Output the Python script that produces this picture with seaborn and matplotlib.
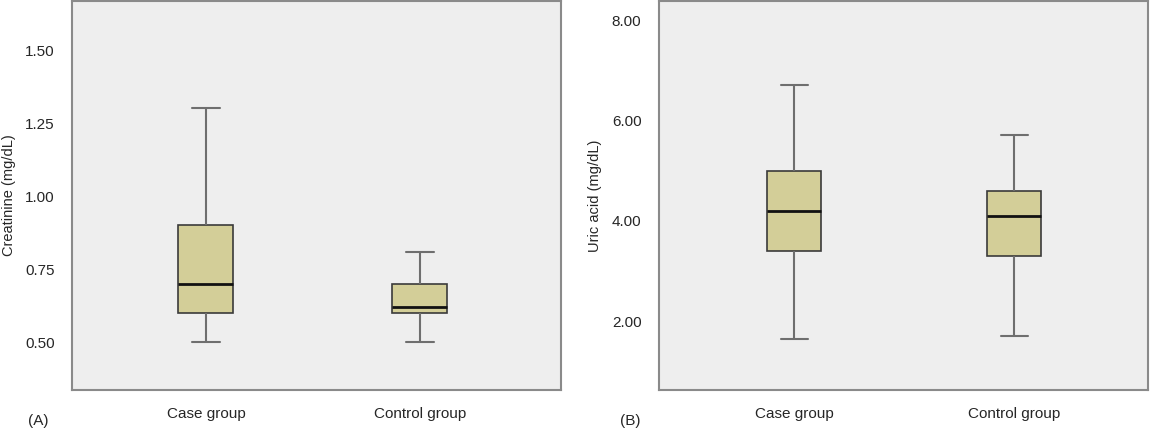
import pandas as pd
import seaborn as sns
import matplotlib.pyplot as plt

# Five-number summaries: low whisker, Q1, median, Q3, high whisker
groups = ['Case group', 'Control group']
creat_case = [0.50, 0.60, 0.70, 0.90, 1.30]
creat_ctrl = [0.50, 0.60, 0.62, 0.70, 0.81]
uric_case = [1.65, 3.40, 4.20, 5.00, 6.70]
uric_ctrl = [1.70, 3.30, 4.10, 4.60, 5.70]
creat_ticks = [0.50, 0.75, 1.00, 1.25, 1.50]
uric_ticks = [2.00, 4.00, 6.00, 8.00]

sns.set_style('white')
plt.rcParams['font.family'] = ['Liberation Sans', 'DejaVu Sans']

df_creat = pd.DataFrame({'group': [groups[0]] * 5 + [groups[1]] * 5,
                         'value': creat_case + creat_ctrl})
df_uric = pd.DataFrame({'group': [groups[0]] * 5 + [groups[1]] * 5,
                        'value': uric_case + uric_ctrl})

fig = plt.figure(figsize=(11.5, 4.32), dpi=100)
ax1 = fig.add_axes([72 / 1150, 42 / 432, 489 / 1150, 389 / 432])
ax2 = fig.add_axes([659 / 1150, 42 / 432, 489 / 1150, 389 / 432])

box_kw = dict(whis=(0, 100), color='#d3ce98', saturation=1, fliersize=0,
              boxprops=dict(edgecolor='#3a3a3a', linewidth=1.2),
              whiskerprops=dict(color='#6e6e6e', linewidth=1.5),
              capprops=dict(color='#6e6e6e', linewidth=1.5),
              medianprops=dict(color='#111111', linewidth=2))

panels = [(ax1, df_creat, creat_ticks, 'Creatinine (mg/dL)', (0.336, 1.668), (-0.626, 1.659), 0.257, '(A)', 38, 16),
          (ax2, df_uric, uric_ticks, 'Uric acid (mg/dL)', (0.625, 8.38), (-0.614, 1.609), 0.245, '(B)', 630, 602)]

for ax, d, ticks, lab, ylim, xlim, w, tag, tag_x, lab_x in panels:
    sns.boxplot(data=d, x='group', y='value', width=w, ax=ax, **box_kw)
    ax.set_facecolor('#eeeeee')
    ax.set_ylim(*ylim)
    ax.set_xlim(*xlim)
    ax.set_yticks(ticks)
    ax.set_yticklabels(['%.2f' % t for t in ticks])
    ax.set_ylabel(lab, fontsize=10.5)
    left_px = ax.get_position().x0 * 1150
    ax.yaxis.set_label_coords((lab_x - left_px) / 489, 0.5)
    ax.set_xlabel('')
    for s in ax.spines.values():
        s.set_color('#8a8a8a')
        s.set_linewidth(1.5)
    ax.tick_params(axis='y', length=3.6, width=1.2, color='#777777', pad=9, labelsize=11)
    ax.tick_params(axis='x', length=3, width=1, color='#777777', pad=9, labelsize=11)
    fig.text(tag_x / 1150, 1 - 421 / 432, tag, fontsize=11, ha='center', va='center')

fig.savefig('out.png', dpi=100)
